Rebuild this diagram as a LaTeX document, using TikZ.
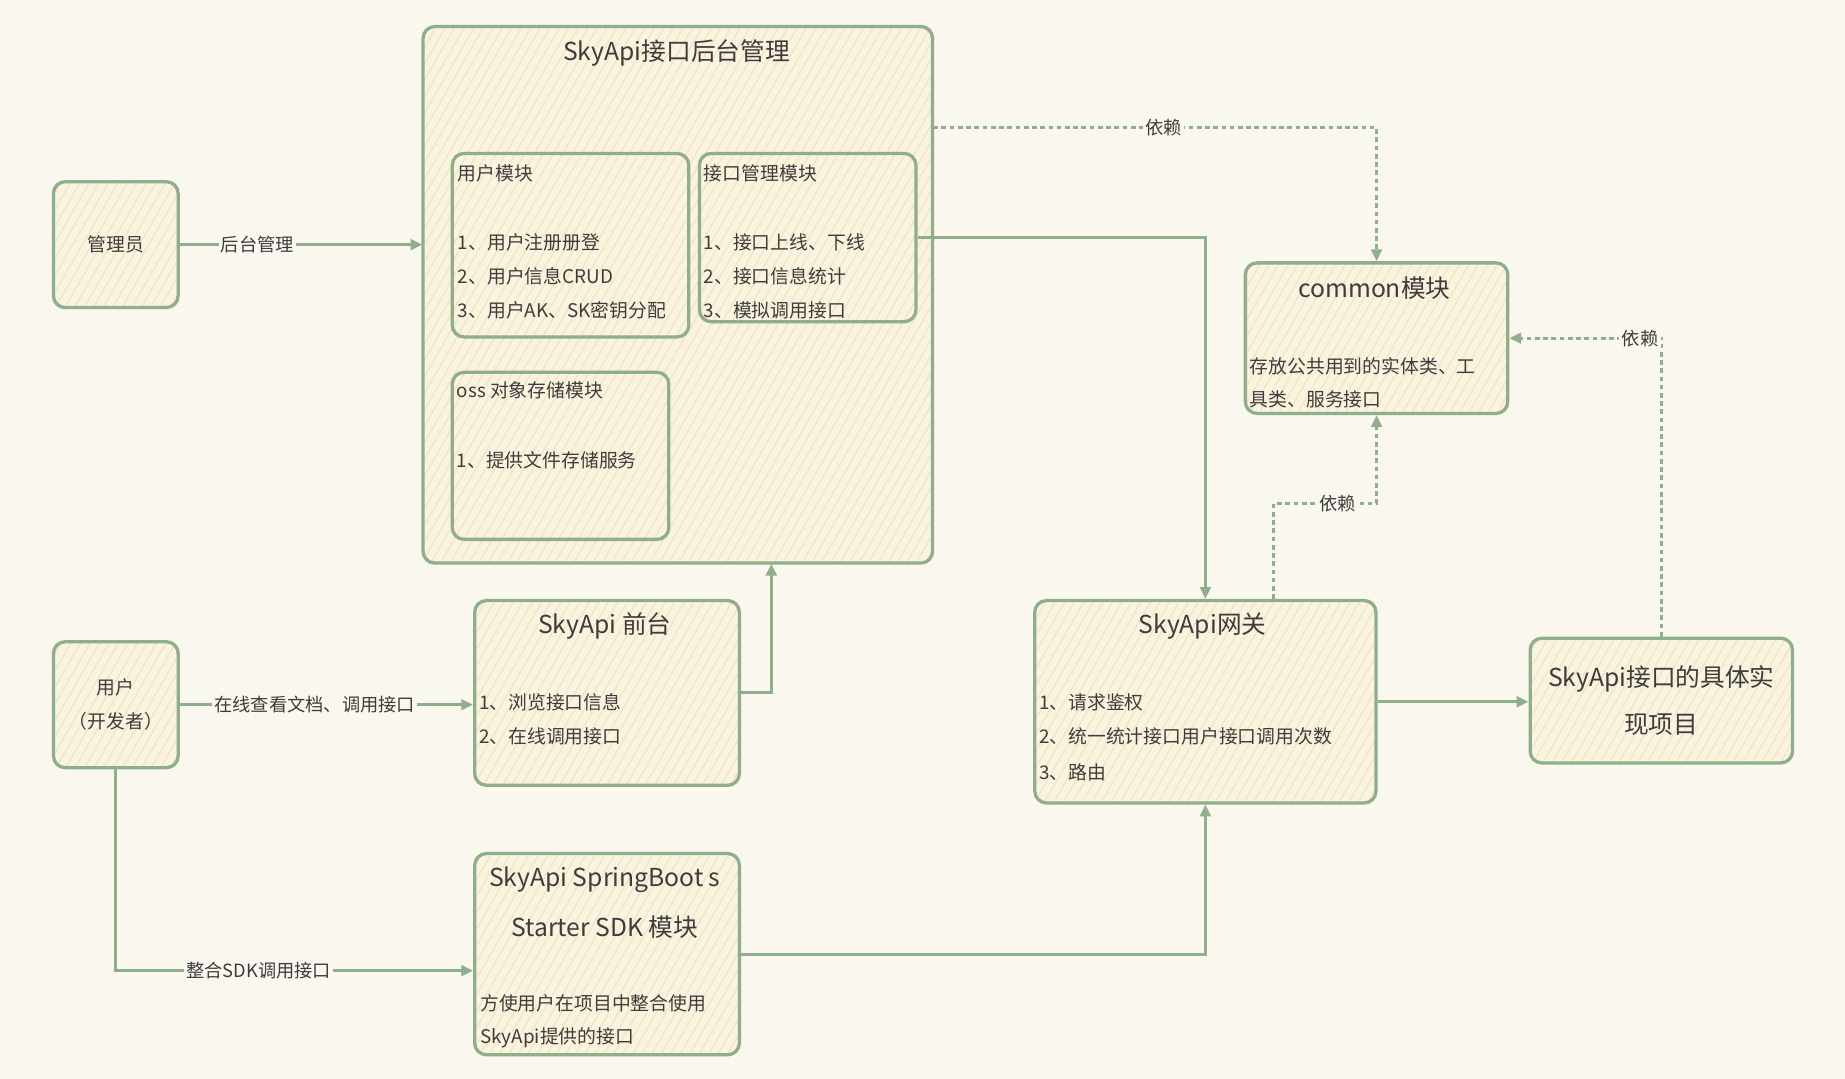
\documentclass[tikz,border=0pt]{standalone}
\usepackage{fontspec}
\setmainfont{Noto Sans CJK SC}
\usetikzlibrary{arrows.meta,patterns.meta}
\definecolor{bg}{HTML}{FAF7EF}
\definecolor{stroke}{HTML}{8FAE8B}
\definecolor{boxfill}{HTML}{FAF3DF}
\definecolor{hatch}{HTML}{F0E6C2}
\definecolor{ink}{HTML}{3D3D3D}
\newcommand\myitem{\fontsize{16}{29}\selectfont}
\newcommand\myttl{\fontsize{21}{40}\selectfont}
\newcommand\mylbl{\fontsize{15.5}{18}\selectfont}
\begin{document}
\begin{tikzpicture}[x=1pt,y=-1pt,
  box/.style={draw=stroke, line width=2.8pt, rounded corners=10pt,
    preaction={fill=boxfill},
    pattern={Lines[angle=60,distance=7pt,line width=1.1pt]}, pattern color=hatch,
    anchor=north west, inner sep=0pt, text=ink, font=\myitem, align=center},
  item/.style={anchor=west, inner sep=0pt, text=ink, font=\myitem},
  ttl/.style={inner sep=0pt, text=ink, font=\myttl},
  lbl/.style={fill=bg, inner sep=2pt, text=ink, font=\mylbl},
  arr/.style={draw=stroke, line width=2.6pt, -{Triangle[length=10pt,width=9pt]}},
  dep/.style={draw=stroke, line width=2.6pt, dash pattern=on 4pt off 3pt, -{Triangle[length=10pt,width=9pt]}}
]
\fill[bg] (0,0) rectangle (1568,917);
\useasboundingbox (0,0) rectangle (1568,917);

% back-end management
\node[box, minimum width=433, minimum height=456] (big) at (359,22) {};
\node[ttl] (bigt) at (575,45) {SkyApi接口后台管理};

\node[box, minimum width=201, minimum height=156] (umod) at (383,129) {};
\node[item] (um0) at (389,147) {用户模块};
\node[item] (um1) at (389,206) {1、用户注册册登};
\node[item] (um2) at (389,235) {2、用户信息CRUD};
\node[item] (um3) at (389,264) {3、用户AK、SK密钥分配};

\node[box, minimum width=184, minimum height=143] (imod) at (593,129) {};
\node[item] (im0) at (598,147) {接口管理模块};
\node[item] (im1) at (598,206) {1、接口上线、下线};
\node[item] (im2) at (598,235) {2、接口信息统计};
\node[item] (im3) at (598,264) {3、模拟调用接口};

\node[box, minimum width=184, minimum height=142] (oss) at (383,315) {};
\node[item] (os0) at (388,332) {oss 对象存储模块};
\node[item] (os1) at (388,391) {1、提供文件存储服务};

% actors
\node[box, minimum width=106, minimum height=107] (admin) at (44,153) {管理员};
\node[box, minimum width=106, minimum height=107] (user) at (44,544) {用户\\（开发者）};

% front end
\node[box, minimum width=225, minimum height=157] (front) at (402,509) {};
\node[ttl] (frt) at (514,532) {SkyApi 前台};
\node[item] (fr1) at (407,597) {1、浏览接口信息};
\node[item] (fr2) at (407,626) {2、在线调用接口};

% SDK
\node[box, minimum width=225, minimum height=171] (sdk) at (402,724) {};
\node[ttl] (sdkt1) at (514,748) {SkyApi SpringBoot s};
\node[ttl] (sdkt2) at (514,788) {Starter SDK 模块};
\node[item] (sd1) at (408,853) {方使用户在项目中整合使用};
\node[item] (sd2) at (408,882) {SkyApi提供的接口};

% gateway
\node[box, minimum width=290, minimum height=172] (gw) at (878,509) {};
\node[ttl] (gwt) at (1022,532) {SkyApi网关};
\node[item] (gw1) at (883,597) {1、请求鉴权};
\node[item] (gw2) at (883,626) {2、统一统计接口用户接口调用次数};
\node[item] (gw3) at (883,656) {3、路由};

% implementation
\node[box, minimum width=223, minimum height=106, font=\myttl] (impl) at (1299,541) {SkyApi接口的具体实\\现项目};

% common
\node[box, minimum width=223, minimum height=128] (common) at (1057,222) {};
\node[ttl] (cmt) at (1168,245) {common模块};
\node[item] (cm1) at (1062,311) {存放公共用到的实体类、工};
\node[item] (cm2) at (1062,339) {具类、服务接口};

\coordinate (d2) at (0,428);

% connectors
\draw[arr] (admin.east) -- node[lbl, pos=0.32] {后台管理} (admin.east -| big.west);
\draw[arr] (user.east) -- node[lbl, pos=0.46] {在线查看文档、调用接口} (user.east -| front.west);
\draw[arr] (front.east) -| ([xshift=79.5pt]big.south);
\draw[arr] (user.south) |- node[lbl, pos=0.7] {整合SDK调用接口} ([yshift=-14pt]sdk.west);
\draw[arr] (imod.east) -| (gw.north);
\draw[arr] (sdk.east) -| (gw.south);
\draw[arr] (gw.east) -- (gw.east -| impl.west);

\draw[dep] ([yshift=142pt]big.east) -| node[lbl, pos=0.26] {依赖} (common.north);
\draw[dep] ([xshift=58pt]gw.north) |- node[lbl, pos=0.81] {依赖} (common.south |- d2) -- (common.south);
\draw[dep] (impl.north) |- node[lbl, pos=0.57] {依赖} (common.east);
\end{tikzpicture}
\end{document}
